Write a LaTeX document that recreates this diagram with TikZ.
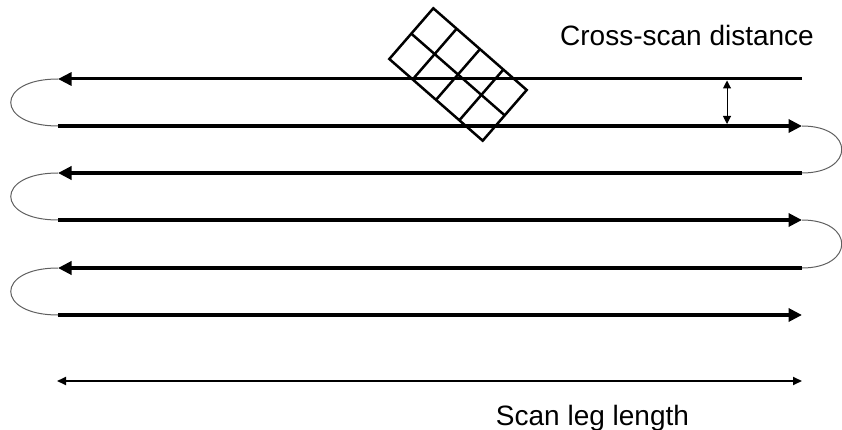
\documentclass[tikz,border=0pt]{standalone}
\usepackage{fontspec}
\setmainfont{Liberation Sans}
\usepackage{tikz}
\usetikzlibrary{calc,arrows.meta}
\definecolor{scanBlack}{RGB}{0,0,0}
\definecolor{turnGray}{RGB}{95,95,95}

\begin{document}
\begin{tikzpicture}[x=1pt,y=-1pt,
    leg/.style={scanBlack, line width=4pt},
    legtip/.style={-{Triangle[length=13.5pt,width=13pt]}},
    turn/.style={turnGray, line width=1pt},
    dimline/.style={scanBlack, line width=1.8pt, {Triangle[length=9pt,width=8pt]}-{Triangle[length=9pt,width=8pt]}},
    cell/.style={scanBlack, line width=2.5pt, line join=miter},
    lbl/.style={font=\fontsize{28}{32}\selectfont, inner sep=0pt}]
    \useasboundingbox (0,0) rectangle (842,430);

    % ends of the scan legs
    \coordinate (L1) at (58,79);  \coordinate (R1) at (802,79);
    \coordinate (L2) at (58,126); \coordinate (R2) at (802,126);
    \coordinate (L3) at (58,173); \coordinate (R3) at (802,173);
    \coordinate (L4) at (58,220); \coordinate (R4) at (802,220);
    \coordinate (L5) at (58,268); \coordinate (R5) at (802,268);
    \coordinate (L6) at (58,315); \coordinate (R6) at (802,315);

    % scan legs, back and forth
    \draw[leg, line width=3pt, legtip] (R1) -- (L1);
    \draw[leg, legtip] (L2) -- (R2);
    \draw[leg, legtip] (R3) -- (L3);
    \draw[leg, legtip] (L4) -- (R4);
    \draw[leg, legtip] (R5) -- (L5);
    \draw[leg, legtip] (L6) -- (R6);

    % turns between legs
    \draw[turn] (L1) .. controls +(-63,0) and +(-63,0) .. (L2);
    \draw[turn] (L3) .. controls +(-63,0) and +(-63,0) .. (L4);
    \draw[turn] (L5) .. controls +(-63,0) and +(-63,0) .. (L6);
    \draw[turn] (R2) .. controls +(53,0) and +(53,0) .. (R3);
    \draw[turn] (R4) .. controls +(53,0) and +(53,0) .. (R5);

    % detector footprint
    \coordinate (gT) at (433.3,8.3);
    \coordinate (gL) at (389.3,59);
    \coordinate (gR) at (526.7,90);
    \coordinate (gB) at ($(gL)+(gR)-(gT)$);
    \draw[cell] (gT) -- (gR) -- (gB) -- (gL) -- cycle;
    \draw[cell] ($(gT)!0.5!(gL)$) -- ($(gR)!0.5!(gB)$);
    \foreach \f in {0.25,0.5,0.75}
        \draw[cell] ($(gT)!\f!(gR)$) -- ($(gL)!\f!(gB)$);

    % cross-scan distance
    \coordinate (cs1) at (727,80.5);
    \coordinate (cs2) at (727,124);
    \draw[scanBlack, line width=1pt, {Triangle[length=8pt,width=8pt]}-{Triangle[length=8pt,width=8pt]}] (cs1) -- (cs2);
    \node[lbl, anchor=base west] (crossLbl) at (560,46) {Cross-scan distance};

    % scan leg length
    \coordinate (sl1) at (57,381);
    \coordinate (sl2) at (802,381);
    \draw[dimline] (sl1) -- (sl2);
    \node[lbl, anchor=base] (legLbl) at (592.5,425) {Scan leg length};
\end{tikzpicture}
\end{document}
